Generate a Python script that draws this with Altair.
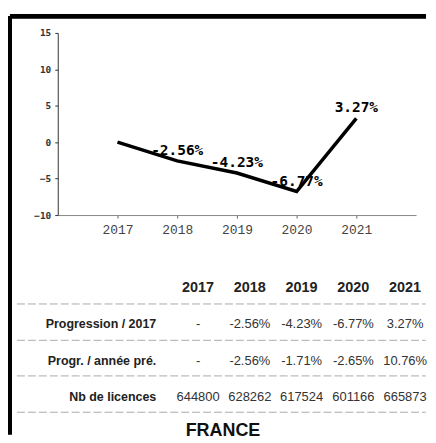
import altair as alt
import pandas as pd

# ---- data ----
years = [2017, 2018, 2019, 2020, 2021]
progression = [0.0, -2.56, -4.23, -6.77, 3.27]
point_labels = ["", "-2.56%", "-4.23%", "-6.77%", "3.27%"]
y_ticks = [-10, -5, 0, 5, 10, 15]

row_names = ["Progression / 2017", "Progr. / année pré.", "Nb de licences"]
row_prog17 = ["-", "-2.56%", "-4.23%", "-6.77%", "3.27%"]
row_prog_prev = ["-", "-2.56%", "-1.71%", "-2.65%", "10.76%"]
row_licences = ["644800", "628262", "617524", "601166", "665873"]
table_title = "FRANCE"

# ---- tables built from the arrays ----
line_df = pd.DataFrame({"year": years, "value": progression, "label": point_labels})

header_df = pd.DataFrame({"col": list(range(1, 6)), "row": [0] * 5, "text": [str(y) for y in years]})
names_df = pd.DataFrame({"col": [0] * 3, "row": [1, 2, 3], "text": row_names})
cells = []
for r, vals in enumerate([row_prog17, row_prog_prev, row_licences], start=1):
    for c, v in enumerate(vals, start=1):
        cells.append({"col": c, "row": r, "text": v})
cells_df = pd.DataFrame(cells)
sep_df = pd.DataFrame({"row": [0.44, 1.44, 2.42, 3.42], "x0": [-2.5] * 4, "x1": [5.4] * 4})
title_df = pd.DataFrame({"row": [3.93], "text": [table_title]})

# ---- line chart ----
xs = alt.Scale(domain=[2016, 2022], nice=False, zero=False)
ys = alt.Scale(domain=[-10, 15], nice=False, zero=False)
x_axis = alt.Axis(
    values=years, format="d", title=None, grid=False,
    labelFont="Liberation Mono", labelFontSize=13, labelColor="#444",
    domainColor="#888", tickColor="#666", tickSize=3, labelPadding=6)
y_axis = alt.Axis(
    values=y_ticks, title=None, grid=False,
    labelFont="DejaVu Sans Mono", labelFontWeight="bold", labelFontSize=9.5,
    labelColor="#333", domainColor="#333", tickColor="#333", tickSize=3,
    labelPadding=4)

base = alt.Chart(line_df).encode(
    x=alt.X("year:Q", scale=xs, axis=x_axis),
    y=alt.Y("value:Q", scale=ys, axis=y_axis),
)
line = base.mark_line(color="black", strokeWidth=3.5)
labels = base.mark_text(
    font="DejaVu Sans Mono", fontWeight="bold", fontSize=14.5, dy=-10,
    baseline="middle", color="black"
).encode(text="label:N")
chart_part = alt.layer(line, labels)

# ---- table ----
tx = alt.Scale(domain=[0, 5], range=[89, 349], nice=False, zero=False)
ty = alt.Scale(domain=[0, 4], range=[256.3, 402.3], nice=False, zero=False)
TX = alt.X("col:Q", scale=tx, axis=None)
TY = alt.Y("row:Q", scale=ty, axis=None)

header = alt.Chart(header_df).mark_text(
    font="Liberation Sans", fontWeight="bold", fontSize=14.5, color="#222", baseline="middle"
).encode(x=TX, y=TY, text="text:N")

names = alt.Chart(names_df).mark_text(
    font="Liberation Sans", fontWeight="bold", fontSize=12.5, color="#222",
    align="right", baseline="middle", dx=10
).encode(x=TX, y=TY, text="text:N")

values = alt.Chart(cells_df).mark_text(
    font="Liberation Sans", fontSize=13, color="#333", baseline="middle"
).encode(x=TX, y=TY, text="text:N")

seps = alt.Chart(sep_df).mark_rule(color="#aaa", strokeWidth=1, strokeDash=[8, 3]).encode(
    x=alt.X("x0:Q", scale=tx, axis=None), x2="x1:Q", y=TY)

title_mark = alt.Chart(title_df).mark_text(
    font="Liberation Sans", fontWeight="bold", fontSize=18, color="#111", baseline="middle"
).encode(x=alt.value(166), y=TY, text="text:N")

table_part = alt.layer(header, names, values, seps, title_mark)

# ---- frame ----
left_border = alt.Chart(line_df).mark_rule(color="black", strokeWidth=4).encode(
    x=alt.value(-48), y=alt.value(-16.7), y2=alt.value(403.3))
top_border = alt.Chart(line_df).mark_rule(color="black", strokeWidth=4).encode(
    x=alt.value(-48), x2=alt.value(370), y=alt.value(-16.7))

chart = alt.layer(chart_part, table_part, left_border, top_border).resolve_scale(
    x="independent", y="independent"
).properties(
    width=360, height=183,
    padding={"left": 0, "top": 5, "right": 0, "bottom": 0},
    background="white",
).configure_view(stroke=None)

chart.save("out.html", embed_options={"renderer": "svg", "actions": False})
